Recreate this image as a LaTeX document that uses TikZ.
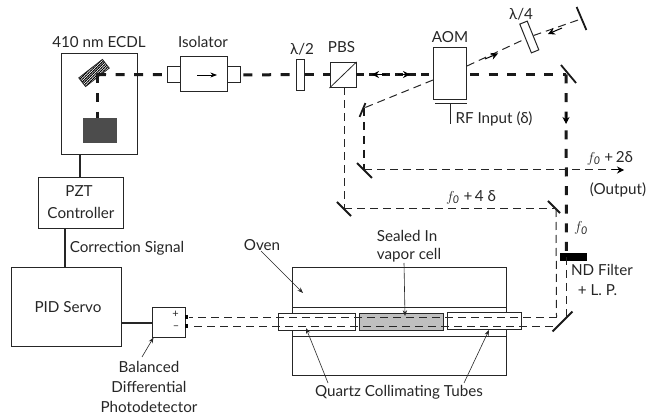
\documentclass[tikz,border=0pt]{standalone}
\usepackage{fontspec}
\setmainfont{Lato}
\usetikzlibrary{arrows.meta,patterns}
\pgfdeclarepatternformonly{dense_hatch}{\pgfqpoint{-1pt}{-1pt}}{\pgfqpoint{4pt}{4pt}}{\pgfqpoint{2.6pt}{2.6pt}}{
    \pgfsetlinewidth{0.8pt}
    \pgfpathmoveto{\pgfqpoint{-0.5pt}{-0.5pt}}
    \pgfpathlineto{\pgfqpoint{3.1pt}{3.1pt}}
    \pgfusepath{stroke}
}

\begin{document}
\begin{tikzpicture}[
    x=1pt, y=-1pt,
    every node/.style={font=\fontsize{15.2}{17}\selectfont, text=black!85},
    box_node/.style={rectangle, draw=black!85, line width=1pt, inner sep=0pt},
    tube_node/.style={box_node, minimum height=16.5pt},
    mirror_node/.style={rectangle, fill=black!90, inner sep=0pt, minimum height=1.8pt},
    label_node/.style={inner sep=0pt, align=center},
    wire/.style={black!85, line width=2pt},
    pointer/.style={-Stealth, black!85, line width=0.6pt},
    heavy_beam/.style={black!90, line width=3pt, dash pattern=on 9pt off 9.6pt},
    mid_beam/.style={black!90, line width=1.9pt, dash pattern=on 8pt off 6pt},
    light_beam/.style={black!85, line width=1pt, dash pattern=on 8pt off 5pt},
    tip/.style={-{Stealth[length=7pt,width=7pt]}, black, line width=1pt}
]
    \useasboundingbox (0,0) rectangle (647,419);

    % oven and tubes
    \node[box_node, minimum width=214.5pt, minimum height=107pt] (oven) at (399.5,321.5) {};
    \node[box_node, minimum width=214.5pt, minimum height=29.5pt] (bore) at (399.5,322.2) {};
    \node[tube_node, fill=white, minimum width=77pt] (tube_l) at (316.5,321.8) {};
    \node[tube_node, fill=black!25, minimum width=84.5pt] (cell) at (401.7,321.8) {};
    \node[tube_node, fill=white, minimum width=74pt] (tube_r) at (484.7,321.2) {};

    % laser head
    \node[box_node, minimum width=76pt, minimum height=101pt] (ecdl) at (99,104.5) {};
    \node[rectangle, fill=black!70, inner sep=0pt, minimum width=34pt, minimum height=24.5pt] (diode) at (99.5,130.7) {};
    \node[box_node, line width=0.8pt, pattern=dense_hatch, minimum width=30pt, minimum height=11pt, rotate=38] (grating) at (94,73) {};
    \node[box_node, minimum width=46.5pt, minimum height=35pt] (iso) at (204.2,74.5) {};
    \node[box_node, minimum width=13.5pt, minimum height=16pt] (iso_l) at (174.2,74.7) {};
    \node[box_node, minimum width=13.5pt, minimum height=16pt] (iso_r) at (234.2,75) {};
    \node[box_node, minimum width=8pt, minimum height=31.5pt] (half) at (300.5,75.2) {};
    \node[box_node, minimum width=26pt, minimum height=25pt] (pbs) at (343,75) {};
    \node[box_node, minimum width=33.5pt, minimum height=52pt] (aom) at (450.2,74) {};
    \node[box_node, minimum width=8pt, minimum height=31pt, rotate=22] (quarter) at (529.3,37) {};

    % control chain
    \node[box_node, minimum width=85.5pt, minimum height=51pt] (pzt) at (81.2,203.5) {};
    \node[box_node, minimum width=110pt, minimum height=78pt] (pid) at (66,307) {};
    \node[box_node, minimum width=32.5pt, minimum height=30pt] (det) at (169.2,322.5) {};
    \node[rectangle, fill=black, inner sep=0pt, minimum size=3.5pt] (port_p) at (186.7,317) {};
    \node[rectangle, fill=black, inner sep=0pt, minimum size=3.5pt] (port_m) at (186.7,326) {};

    % mirrors
    \node[mirror_node, minimum width=23.5pt, rotate=-50] (m_aom) at (568.5,74) {};
    \node[mirror_node, minimum width=25pt, rotate=-67] (m_end) at (581.5,18.5) {};
    \node[mirror_node, minimum width=15pt, rotate=67] (m_ret) at (362.5,110) {};
    \node[mirror_node, minimum width=21pt, rotate=-45] (m_out) at (364.5,170.5) {};
    \node[mirror_node, minimum width=20pt, rotate=-45] (m_pbs) at (344,209) {};
    \node[mirror_node, minimum width=17pt, rotate=-45] (m_top) at (554,207) {};
    \node[mirror_node, minimum width=28pt, rotate=45] (m_low) at (562.5,321.5) {};
    \node[rectangle, fill=black, inner sep=0pt, minimum width=27pt, minimum height=8pt] (nd) at (573.5,257) {};

    \coordinate (c_grating) at (97,74.5);
    \coordinate (c_pid) at (121,323);
    \coordinate (c_ecdl) at (80,155);
    \coordinate (c_pzt) at (80,178);
    \coordinate (c_pzt2) at (64.5,229);
    \coordinate (c_pid2) at (64.5,268);
    \coordinate (c_det) at (153,323);
    \coordinate (c_diode) at (97,118.5);
    \coordinate (c_half) at (296.5,74.5);
    \coordinate (c_half2) at (304.5,74.5);
    \coordinate (c_pbs) at (330,74.5);
    \coordinate (c_pbs2) at (356,74.5);
    \coordinate (c_aom) at (433.5,74.5);
    \coordinate (c_aom2) at (467,74.5);
    \coordinate (c_aom3) at (467,66);
    \coordinate (c_aom4) at (433,80);
    \coordinate (c_fold) at (566,74.5);
    \coordinate (c_out) at (623,170);
    \coordinate (c_nd) at (566.5,257);
    \coordinate (c_lo) at (556.5,317);
    \coordinate (c_hi) at (566.5,317);
    \coordinate (c_lo2) at (552.5,326);
    \coordinate (c_up) at (556,209);
    \coordinate (c_ml) at (344,87.5);
    \coordinate (c_ml2) at (344,209);
    \coordinate (c_ret) at (364,108);
    \coordinate (c_ret2) at (364,170);
    \coordinate (c_rf) at (450,104);
    \coordinate (c_rf2) at (450,124.5);
    \coordinate (c_rfa) at (435,104);
    \coordinate (c_rfb) at (467,104);
    \coordinate (c_iso_a) at (197,75);
    \coordinate (c_iso_b) at (217,75);
    \coordinate (c_end) at (581,19);

    \draw [wire] (c_ecdl) -- (c_pzt);
    \draw [wire] (c_pzt2) -- (c_pid2);
    \draw [wire] (c_pid) -- (c_det);
    \draw [line width=1pt, black!85] (c_rfa) -- (c_rfb);
    \draw [line width=1pt, black!85] (c_rf) -- (c_rf2);
    \draw [line width=0.8pt, black!85] (pbs.south west) -- (pbs.north east);
    \draw [-Stealth, black, line width=0.8pt] (c_iso_a) -- (c_iso_b);

    % beams
    \draw [heavy_beam] (c_grating) -- (iso_l.west);
    \draw [heavy_beam] (c_grating) -- (c_diode);
    \draw [heavy_beam] (iso_r.east) ++(2,0) -- (c_half);
    \draw [heavy_beam] (c_half2) -- (c_pbs);
    \draw [heavy_beam, dash pattern=on 8pt off 5pt] (c_pbs2) -- (c_aom);
    \draw [heavy_beam] (c_aom2) ++(3,0) -- (c_fold);
    \draw [heavy_beam] (c_fold) -- (c_nd);
    \draw [light_beam] (c_aom3) -- (quarter);
    \draw [light_beam] (quarter) -- (c_end);
    \draw [light_beam] (c_aom4) -- (c_ret);
    \draw [mid_beam] (c_ret) -- (c_ret2);
    \draw [light_beam] (c_ret2) -- (c_out);
    \draw [light_beam] (c_ml) -- (c_ml2);
    \draw [light_beam] (c_ml2) -- (c_up);
    \draw [light_beam] (c_up) -- (c_lo);
    \draw [light_beam] (c_nd) -- (c_hi);
    \draw [light_beam] (c_lo) -- (port_p);
    \draw [light_beam] (c_lo2) -- (port_m);

    % arrowheads on the beams
    \coordinate (t1a) at (386,74.5); \coordinate (t1b) at (372,74.5);
    \coordinate (t2a) at (398,74.5); \coordinate (t2b) at (410,74.5);
    \coordinate (t3a) at (485,59); \coordinate (t3b) at (498,53.5);
    \coordinate (t4a) at (562,28); \coordinate (t4b) at (548,34);
    \coordinate (t5a) at (566,112); \coordinate (t5b) at (566,124);
    \coordinate (t6a) at (612,170); \coordinate (t6b) at (624,170);
    \draw [tip] (t1a) -- (t1b);
    \draw [tip] (t2a) -- (t2b);
    \draw [tip] (t3a) -- (t3b);
    \draw [tip] (t4a) -- (t4b);
    \draw [tip] (t5a) -- (t5b);
    \draw [tip] (t6a) -- (t6b);

    % labels
    \node[label_node] (l_ecdl) at (99,42) {410 nm ECDL};
    \node[label_node] (l_iso) at (203,42) {Isolator};
    \node[label_node] (l_half) at (302,49) {λ/2};
    \node[label_node] (l_pbs) at (341.5,47) {PBS};
    \node[label_node] (l_aom) at (450,37) {AOM};
    \node[label_node] (l_quarter) at (521,14) {λ/4};
    \node[label_node] (l_rf) at (494,119) {RF Input (δ)};
    \node[label_node] (l_shift2) at (610,158) {$f_{\mathit{0}}$ +\,2δ};
    \node[label_node] (l_output) at (618,190) {(Output)};
    \node[label_node] (l_shift4) at (471,197) {$f_{\mathit{0}}$ +\,4 δ};
    \node[label_node] (l_f0) at (581,228) {$f_{\mathit{0}}$};
    \node[label_node] (l_nd) at (602,270) {ND Filter};
    \node[label_node] (l_lp) at (597.5,290) {+ L. P.};
    \node[label_node] (l_pzt) at (79,191) {PZT};
    \node[label_node] (l_ctrl) at (81,213) {Controller};
    \node[label_node] (l_corr) at (127,248) {Correction Signal};
    \node[label_node] (l_pid) at (68,307) {PID Servo};
    \node[label_node, font=\fontsize{11}{11}\selectfont] (l_plus) at (175.5,314.5) {+};
    \node[label_node, font=\fontsize{11}{11}\selectfont] (l_minus) at (176,328) {–};
    \node[label_node] (l_bal) at (149,367) {Balanced};
    \node[label_node] (l_diff) at (149,387) {Differential};
    \node[label_node] (l_photo) at (149,407) {Photodetector};
    \node[label_node] (l_oven) at (262,245) {Oven};
    \node[label_node] (l_sealed) at (407,236) {Sealed In};
    \node[label_node] (l_vapor) at (409,255) {vapor cell};
    \node[label_node] (l_quartz) at (399,392) {Quartz Collimating Tubes};

    % pointers
    \coordinate (p_det) at (153.5,337.5);
    \coordinate (p_det0) at (142,357);
    \coordinate (p_oven) at (303,293);
    \coordinate (p_oven0) at (261,251);
    \coordinate (p_cell) at (405,316);
    \coordinate (p_cell0) at (404,263);
    \coordinate (p_tl) at (306,328);
    \coordinate (p_tl0) at (328,383);
    \coordinate (p_tr) at (489,330);
    \coordinate (p_tr0) at (464,383);
    \draw [pointer] (p_det0) -- (p_det);
    \draw [pointer] (p_oven0) -- (p_oven);
    \draw [pointer] (p_cell0) -- (p_cell);
    \draw [pointer] (p_tl0) -- (p_tl);
    \draw [pointer] (p_tr0) -- (p_tr);
\end{tikzpicture}
\end{document}
